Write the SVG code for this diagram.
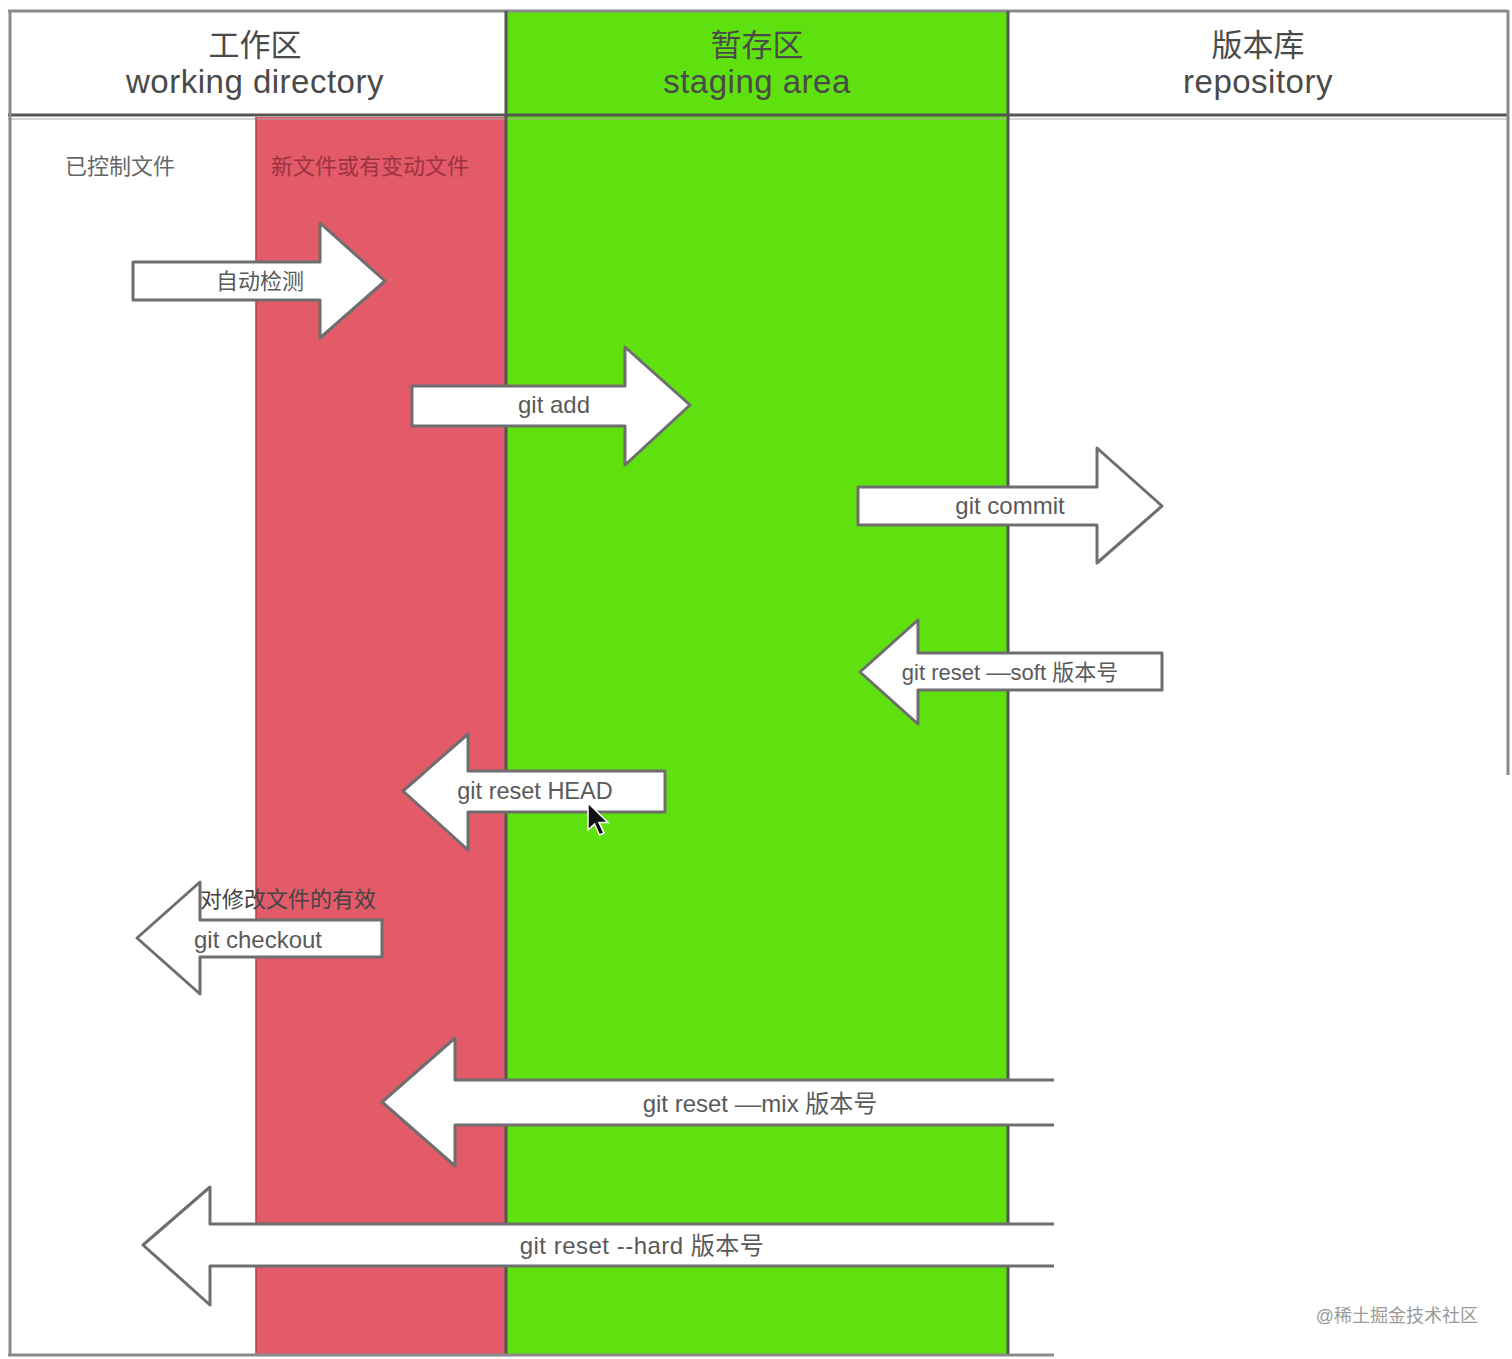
<svg xmlns="http://www.w3.org/2000/svg" width="1512" height="1359" viewBox="0 0 1512 1359">
<style>
.t{font-family:"Liberation Sans","Noto Sans CJK SC",sans-serif;fill:#4a4a4a}
.h{font-size:33px;text-anchor:middle;letter-spacing:0.5px}
.hc{font-size:31px;text-anchor:middle}
.b{font-size:22px}
.a{font-size:24px;text-anchor:middle;fill:#5a5a5a}
.arr{fill:#fff;stroke:#6e6e6e;stroke-width:3;stroke-linejoin:round}
.open{fill:none;stroke:#6e6e6e;stroke-width:3;stroke-linejoin:round}
.wf{fill:#fff;stroke:none}
.ln{stroke:#8a8a8a;stroke-width:3;fill:none}
.dk{stroke:#555;stroke-width:3;fill:none}
</style>
<rect width="1512" height="1359" fill="#fff"/>
<g id="columns">
<rect x="256" y="117" width="250" height="1238" fill="#e35a69"/>
<rect x="507" y="11" width="500" height="1344" fill="#5fe00f"/>
<line class="ln" x1="8" y1="11" x2="1508" y2="11"/>
<line class="dk" x1="8" y1="115" x2="1508" y2="115"/>
<line x1="8" y1="119" x2="1508" y2="119" stroke="#aaa" stroke-width="1"/>
<line class="ln" x1="10" y1="10" x2="10" y2="1356"/>
<line class="ln" x1="1508" y1="10" x2="1508" y2="775"/>
<line class="dk" x1="506" y1="11" x2="506" y2="1355"/>
<line class="dk" x1="1008" y1="11" x2="1008" y2="1355"/>
<line x1="256" y1="117" x2="256" y2="1355" stroke="#b04050" stroke-width="1.5"/>
<line class="ln" x1="8" y1="1355" x2="1054" y2="1355"/>
</g>
<g id="header-working">
<text class="t hc" x="255" y="56">工作区</text>
<text class="t h" x="255" y="93">working directory</text>
</g>
<g id="header-staging">
<text class="t hc" x="757" y="56">暂存区</text>
<text class="t h" x="757" y="93">staging area</text>
</g>
<g id="header-repo">
<text class="t hc" x="1258" y="56">版本库</text>
<text class="t h" x="1258" y="93">repository</text>
</g>
<g id="label-tracked"><text class="t b" x="65" y="174" style="fill:#666">已控制文件</text></g>
<g id="label-new"><text class="t b" x="271" y="174" style="fill:#9c3342">新文件或有变动文件</text></g>
<g id="connectors">
<g id="auto-detect">
<polygon class="arr" points="133,262 320,262 320,223 385,281 320,338 320,300 133,300"/>
<text class="t a" x="260" y="289" style="font-size:22px">自动检测</text>
</g>
<g id="git-add">
<polygon class="arr" points="412,386 625,386 625,347 690,405 625,465 625,426 412,426"/>
<text class="t a" x="554" y="413">git add</text>
</g>
<g id="git-commit">
<polygon class="arr" points="858,487 1097,487 1097,448 1162,506 1097,563 1097,525 858,525"/>
<text class="t a" x="1010" y="514">git commit</text>
</g>
<g id="git-reset-soft">
<polygon class="arr" points="1162,653 918,653 918,620 860,672 918,724 918,690 1162,690"/>
<text class="t a" x="1010" y="680" style="font-size:22px">git reset ––soft 版本号</text>
</g>
<g id="git-reset-head">
<polygon class="arr" points="665,771 468,771 468,734 403,791 468,850 468,812 665,812"/>
<text class="t a" x="535" y="799" style="font-size:23.5px">git reset HEAD</text>
<path d="M588,803 L588,830 L594.5,824 L599.5,835 L604,833 L599,822.5 L608,822.5 Z" fill="#111" stroke="#fff" stroke-width="1.5"/>
</g>
<g id="git-checkout">
<polygon class="arr" points="382,920 200,920 200,882 137,938 200,994 200,957 382,957"/>
<text class="t" x="200" y="907" style="font-size:22px;fill:#444">对修改文件的有效</text>
<text class="t a" x="258" y="948">git checkout</text>
</g>
<g id="git-reset-mix">
<polygon class="wf" points="1054,1080 455,1080 455,1038 382,1102 455,1166 455,1125 1054,1125"/>
<path class="open" d="M1054,1080 L455,1080 L455,1038 L382,1102 L455,1166 L455,1125 L1054,1125"/>
<text class="t a" x="760" y="1112">git reset ––mix 版本号</text>
</g>
<g id="git-reset-hard">
<polygon class="wf" points="1054,1224 210,1224 210,1187 143,1245 210,1305 210,1266 1054,1266"/>
<path class="open" d="M1054,1224 L210,1224 L210,1187 L143,1245 L210,1305 L210,1266 L1054,1266"/>
<text class="t a" x="642" y="1254" style="letter-spacing:0.5px">git reset --hard 版本号</text>
</g>
</g>
<text class="t" x="1478" y="1322" style="font-size:18px;fill:#9a9a9a;text-anchor:end">@稀土掘金技术社区</text>
</svg>
